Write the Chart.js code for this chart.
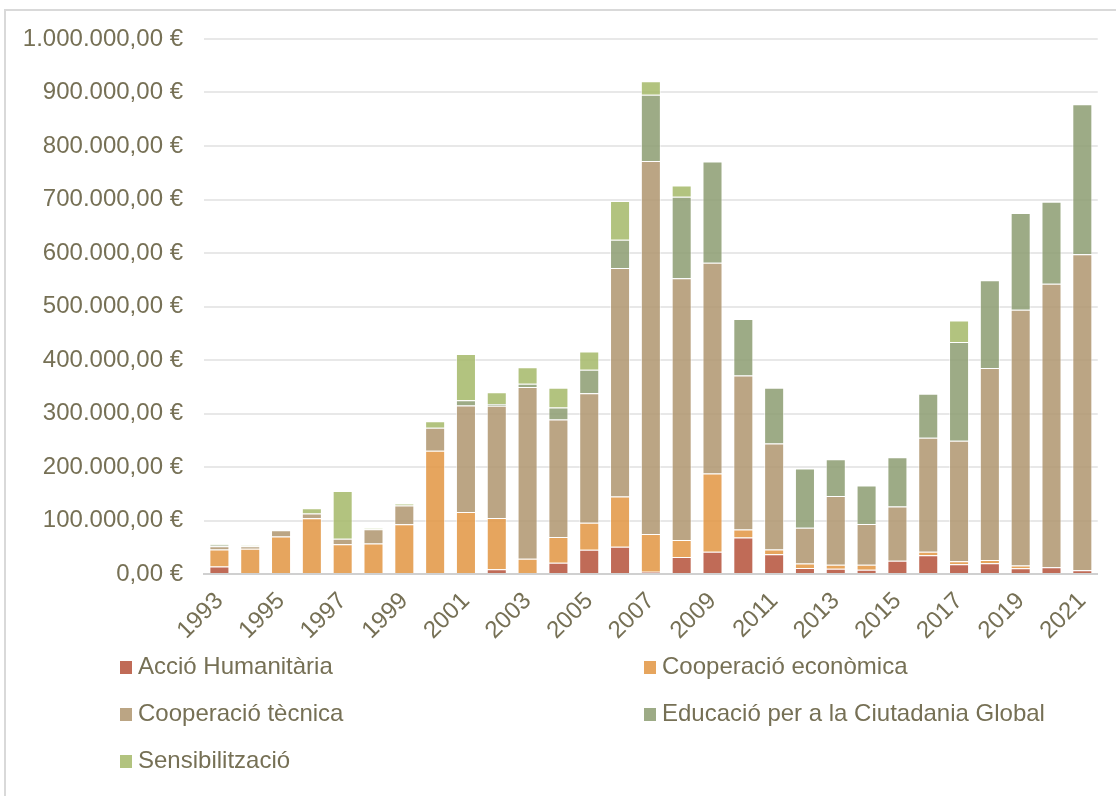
<!DOCTYPE html>
<html>
<head>
<meta charset="utf-8">
<script src="https://cdn.jsdelivr.net/npm/chart.js@4"></script>
<style>
    body { margin: 0; background: #fff; font-family: "Liberation Sans", Arial, sans-serif; }
    #caixa { position: relative; width: 1116px; height: 796px; overflow: hidden; }
    #marc { position: absolute; left: 4px; top: 9px; width: 1130px; height: 800px; border: 2px solid #d9d9d9; box-sizing: border-box; }
    #grafic { position: absolute; left: 0; top: 0; }
    .llegenda { position: absolute; font-size: 24px; color: #767055; white-space: nowrap; line-height: 26px; }
    .llegenda span { display: inline-block; width: 12px; height: 13px; margin-right: 6px; vertical-align: 0px; }
</style>
</head>
<body>
<div id="caixa">
    <div id="marc"></div>
    <canvas id="grafic" width="1116" height="796"></canvas>
    <div id="llegenda"></div>
</div>
<script>
// anys i imports per tipus d'actuació (euros)
var anys = ['1993', '1994', '1995', '1996', '1997', '1998', '1999', '2000', '2001', '2002',
    '2003', '2004', '2005', '2006', '2007', '2008', '2009', '2010', '2011', '2012',
    '2013', '2014', '2015', '2016', '2017', '2018', '2019', '2020', '2021'];

var accioHumanitaria = [14000, 0, 0, 0, 2000, 0, 0, 0, 0, 8700,
    0, 21000, 45500, 51000, 4000, 32000, 41700, 68000, 37000, 11000,
    10000, 8000, 25000, 35000, 18000, 20000, 10600, 12500, 6900];

var cooperacioEconomica = [32000, 47000, 70000, 104000, 53500, 57000, 93000, 230500, 116000, 96000,
    28600, 48000, 50500, 94000, 71000, 31500, 146300, 15000, 9000, 8500,
    7500, 9500, 0, 6800, 5700, 6200, 5400, 0, 0];

var cooperacioTecnica = [6000, 5000, 12000, 9000, 10500, 26500, 35000, 43000, 199000, 210000,
    321000, 220000, 242000, 427000, 697000, 489500, 394000, 288000, 198000, 67000,
    128500, 76000, 101000, 212700, 225300, 358800, 478000, 530200, 590700];

var educacioCiutadania = [3000, 0, 0, 0, 0, 0, 0, 0, 10000, 3000,
    6000, 22000, 44000, 53000, 124000, 152000, 189000, 105600, 104000, 110500,
    68600, 71700, 92300, 82500, 184600, 164000, 181000, 153300, 280400];

var sensibilitzacio = [1500, 1500, 0, 10000, 89000, 2000, 4000, 12000, 86000, 22000,
    31000, 37000, 34000, 72000, 25000, 21000, 0, 0, 0, 0,
    0, 0, 0, 0, 40400, 0, 0, 0, 0];

var series = [
    { nom: 'Acció Humanitària', dades: accioHumanitaria, color: 'rgba(181, 81, 57, 0.85)' },
    { nom: 'Cooperació econòmica', dades: cooperacioEconomica, color: 'rgba(226, 149, 66, 0.85)' },
    { nom: 'Cooperació tècnica', dades: cooperacioTecnica, color: 'rgba(175, 149, 110, 0.85)' },
    { nom: 'Educació per a la Ciutadania Global', dades: educacioCiutadania, color: 'rgba(140, 156, 113, 0.85)' },
    { nom: 'Sensibilització', dades: sensibilitzacio, color: 'rgba(164, 184, 104, 0.85)' }
];

var colorText = '#767055';

function formatEuros(valor) {
    var enter = Math.round(valor).toString().replace(/\B(?=(\d{3})+(?!\d))/g, '.');
    return enter + ',00 €';
}

var datasets = [];
for (var i = 0; i < series.length; i++) {
    datasets.push({
        label: series[i].nom,
        data: series[i].dades,
        backgroundColor: series[i].color,
        borderColor: 'rgba(255, 255, 255, 0.55)',
        borderWidth: 1,
        barPercentage: 0.65,
        categoryPercentage: 1
    });
}

// llegenda en dues columnes, com l'original
var posicions = [[120, 653], [644, 653], [120, 700], [644, 700], [120, 747]];
var llegenda = document.getElementById('llegenda');
for (var j = 0; j < series.length; j++) {
    var item = document.createElement('div');
    item.className = 'llegenda';
    item.style.left = posicions[j][0] + 'px';
    item.style.top = posicions[j][1] + 'px';
    item.innerHTML = '<span style="background:' + series[j].color + '"></span>' + series[j].nom;
    llegenda.appendChild(item);
}

const grafic = new Chart(document.getElementById('grafic'), {
    type: 'bar',
    data: { labels: anys, datasets: datasets },
    options: {
        responsive: false,
        animation: false,
        layout: { padding: { left: 0, right: 18, top: 39, bottom: 152 } },
        plugins: {
            legend: { display: false },
            tooltip: { enabled: false }
        },
        scales: {
            x: {
                stacked: true,
                grid: { display: false, drawTicks: false },
                border: { color: '#d0d0d0', width: 2 },
                ticks: {
                    autoSkip: false,
                    maxRotation: 45,
                    minRotation: 45,
                    padding: 13,
                    color: colorText,
                    font: { family: 'Liberation Sans', size: 24 },
                    callback: function (valor, index) {
                        return index % 2 == 0 ? anys[index] : '';
                    }
                },
                afterFit: function (escala) { escala.height = 70; }
            },
            y: {
                stacked: true,
                min: 0,
                max: 1000000,
                grid: { color: '#e8e8e8', lineWidth: 2, drawTicks: false },
                border: { display: false },
                ticks: {
                    stepSize: 100000,
                    padding: 21,
                    color: colorText,
                    font: { family: 'Liberation Sans', size: 24 },
                    callback: function (valor) { return formatEuros(valor); }
                },
                afterFit: function (escala) { escala.width = 204; }
            }
        }
    }
});
</script>
</body>
</html>
